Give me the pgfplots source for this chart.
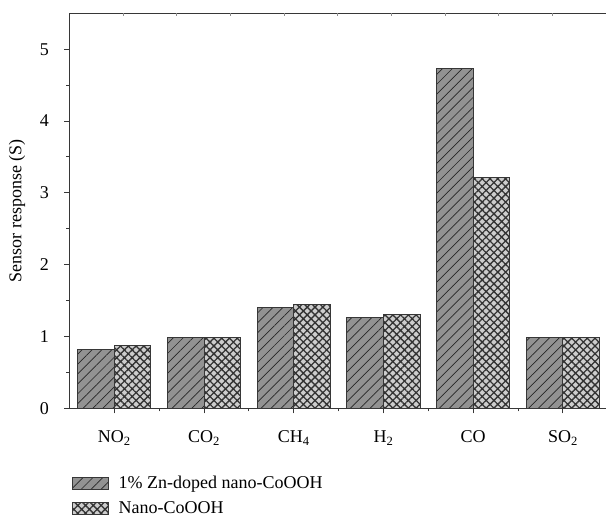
\documentclass[border=0pt]{standalone}
\usepackage{fontspec}
\setmainfont{Liberation Serif}
\usepackage{pgfplots}
\pgfplotsset{compat=1.18}
\usetikzlibrary{patterns.meta}

\definecolor{axisgray}{RGB}{55,55,55}
\definecolor{darkbar}{RGB}{146,146,146}
\definecolor{lightbar}{RGB}{205,205,205}

\begin{document}
\begin{tikzpicture}[font=\fontsize{18bp}{21bp}\selectfont]
\begin{axis}[
  name=main,
  scale only axis,
  width=536.5bp, height=395bp,
  xmin=-0.5, xmax=5.48,
  ymin=0, ymax=5.5,
  axis y line*=left,
  axis line style={axisgray, line width=1.1bp},
  every tick/.style={axisgray, line width=1bp},
  tick align=outside,
  major tick length=5bp,
  minor tick length=3bp,
  xtick={0,1,2,3,4,5},
  xticklabels={NO\textsubscript{2}, CO\textsubscript{2}, CH\textsubscript{4}, H\textsubscript{2}, CO, SO\textsubscript{2}},
  xtick pos=bottom,
  minor x tick num=1,
  ytick={0,1,2,3,4,5},
  minor y tick num=1,
  ytick pos=left,
  xticklabel style={yshift=-14bp},
  yticklabel style={xshift=-12bp},
  /pgf/number format/assume math mode=true,
  ylabel={Sensor response (S)},
  ylabel shift=8bp,
  ybar=0pt,
  bar width=0.407,
  legend style={at={(0,0)}, anchor=north west, yshift=-64bp, xshift=-1bp,
    draw=none, fill=none, font=\fontsize{18bp}{21bp}\selectfont,
    row sep=7bp, cells={anchor=west}},
  legend image code/.code={\draw[#1] (0bp,-6bp) rectangle (36bp,6bp); \path (44bp,0bp);},
]
\addplot[draw=axisgray, line width=1bp, fill=darkbar,
  postaction={pattern={Lines[angle=45, distance=7bp, line width=0.7bp]}, pattern color=black!85}]
  coordinates {(0,0.82) (1,0.99) (2,1.40) (3,1.26) (4,4.73) (5,0.99)};
\addlegendentry{1\% Zn-doped nano-CoOOH}
\addplot[draw=axisgray, line width=1bp, fill=lightbar,
  postaction={pattern={Hatch[angle=45, distance=5.5bp, line width=1.3bp]}, pattern color=black!80}]
  coordinates {(0,0.87) (1,0.99) (2,1.44) (3,1.30) (4,3.21) (5,0.99)};
\addlegendentry{Nano-CoOOH}
\end{axis}
% faint tick marks along the top edge
\begin{axis}[
  scale only axis,
  width=536.5bp, height=395bp,
  at={(main.south west)}, anchor=south west,
  xmin=0, xmax=10, ymin=0, ymax=1,
  axis x line*=top, axis y line=none,
  axis line style={draw=none},
  xtick={1,...,9}, xticklabels={},
  tick align=inside, major tick length=3bp,
  every tick/.style={black!45, line width=0.8bp},
]
\end{axis}
\pgfresetboundingbox
\path[use as bounding box] ([xshift=-69.5bp, yshift=-112.7bp]main.south west) rectangle ([yshift=13.3bp]main.north east);
\end{tikzpicture}
\end{document}
